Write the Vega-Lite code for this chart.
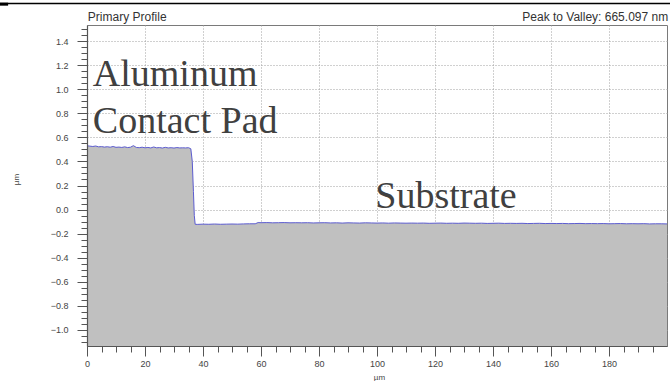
{
  "$schema": "https://vega.github.io/schema/vega-lite/v6.json",
  "width": 580,
  "height": 321,
  "autosize": "none",
  "padding": {"left": 87, "top": 25, "right": 3, "bottom": 35},
  "background": "white",
  "config": {
    "view": {"stroke": "#7a7a7a", "strokeWidth": 1},
    "font": "Liberation Sans"
  },
  "datasets": {
    "profile": [
      {"x": 0, "z": 0.530}, {"x": 1, "z": 0.527}, {"x": 2, "z": 0.524}, {"x": 3, "z": 0.528},
      {"x": 4, "z": 0.521}, {"x": 5, "z": 0.523}, {"x": 6, "z": 0.519}, {"x": 7, "z": 0.522},
      {"x": 8, "z": 0.518}, {"x": 9, "z": 0.524}, {"x": 10, "z": 0.517}, {"x": 11, "z": 0.519},
      {"x": 12, "z": 0.516}, {"x": 13, "z": 0.521}, {"x": 14, "z": 0.515}, {"x": 15, "z": 0.518},
      {"x": 16, "z": 0.531}, {"x": 17, "z": 0.516}, {"x": 18, "z": 0.514}, {"x": 19, "z": 0.518},
      {"x": 20, "z": 0.513}, {"x": 21, "z": 0.516}, {"x": 22, "z": 0.512}, {"x": 23, "z": 0.520},
      {"x": 24, "z": 0.513}, {"x": 25, "z": 0.515}, {"x": 26, "z": 0.511}, {"x": 27, "z": 0.517},
      {"x": 28, "z": 0.512}, {"x": 29, "z": 0.514}, {"x": 30, "z": 0.511}, {"x": 31, "z": 0.515},
      {"x": 32, "z": 0.512}, {"x": 33, "z": 0.513}, {"x": 34, "z": 0.512}, {"x": 35, "z": 0.514},
      {"x": 35.8, "z": 0.505}, {"x": 36.3, "z": 0.40}, {"x": 36.7, "z": 0.15}, {"x": 37.0, "z": -0.05},
      {"x": 37.3, "z": -0.122}, {"x": 38, "z": -0.123}, {"x": 40, "z": -0.121}, {"x": 42, "z": -0.122},
      {"x": 44, "z": -0.120}, {"x": 46, "z": -0.122}, {"x": 48, "z": -0.121}, {"x": 50, "z": -0.120},
      {"x": 52, "z": -0.121}, {"x": 54, "z": -0.119}, {"x": 56, "z": -0.118}, {"x": 58, "z": -0.118},
      {"x": 59, "z": -0.108}, {"x": 60, "z": -0.109}, {"x": 62, "z": -0.108}, {"x": 64, "z": -0.110},
      {"x": 66, "z": -0.109}, {"x": 68, "z": -0.108}, {"x": 70, "z": -0.110}, {"x": 72, "z": -0.109},
      {"x": 74, "z": -0.110}, {"x": 76, "z": -0.109}, {"x": 78, "z": -0.111}, {"x": 80, "z": -0.110},
      {"x": 82, "z": -0.109}, {"x": 84, "z": -0.111}, {"x": 86, "z": -0.110}, {"x": 88, "z": -0.112},
      {"x": 90, "z": -0.110}, {"x": 92, "z": -0.111}, {"x": 94, "z": -0.112}, {"x": 96, "z": -0.110},
      {"x": 98, "z": -0.111}, {"x": 100, "z": -0.112}, {"x": 102, "z": -0.111}, {"x": 104, "z": -0.113},
      {"x": 106, "z": -0.111}, {"x": 108, "z": -0.112}, {"x": 110, "z": -0.113}, {"x": 112, "z": -0.112},
      {"x": 114, "z": -0.113}, {"x": 116, "z": -0.112}, {"x": 118, "z": -0.114}, {"x": 120, "z": -0.113},
      {"x": 122, "z": -0.112}, {"x": 124, "z": -0.114}, {"x": 126, "z": -0.113}, {"x": 128, "z": -0.114},
      {"x": 130, "z": -0.112}, {"x": 132, "z": -0.113}, {"x": 134, "z": -0.114}, {"x": 136, "z": -0.113},
      {"x": 138, "z": -0.115}, {"x": 140, "z": -0.114}, {"x": 142, "z": -0.113}, {"x": 144, "z": -0.115},
      {"x": 146, "z": -0.114}, {"x": 148, "z": -0.115}, {"x": 150, "z": -0.114}, {"x": 152, "z": -0.116},
      {"x": 154, "z": -0.115}, {"x": 156, "z": -0.114}, {"x": 158, "z": -0.116}, {"x": 160, "z": -0.115},
      {"x": 162, "z": -0.116}, {"x": 164, "z": -0.115}, {"x": 166, "z": -0.117}, {"x": 168, "z": -0.116},
      {"x": 170, "z": -0.115}, {"x": 172, "z": -0.117}, {"x": 174, "z": -0.116}, {"x": 176, "z": -0.117},
      {"x": 178, "z": -0.116}, {"x": 180, "z": -0.118}, {"x": 182, "z": -0.117}, {"x": 184, "z": -0.116},
      {"x": 186, "z": -0.118}, {"x": 188, "z": -0.117}, {"x": 190, "z": -0.118}, {"x": 192, "z": -0.117},
      {"x": 194, "z": -0.119}, {"x": 196, "z": -0.118}, {"x": 198, "z": -0.118}, {"x": 200, "z": -0.119}
    ],
    "labels": [
      {"x": 2, "z": 1.027, "label": "Aluminum"},
      {"x": 2, "z": 0.636, "label": "Contact Pad"},
      {"x": 99.4, "z": 0.013, "label": "Substrate"}
    ],
    "one": [{}]
  },
  "layer": [
    {
      "data": {"name": "profile"},
      "mark": {"type": "area", "color": "#c0c0c0", "opacity": 1, "fillOpacity": 1, "line": {"color": "#5c5cd0", "strokeWidth": 1}},
      "encoding": {
        "x": {
          "field": "x", "type": "quantitative",
          "scale": {"domain": [0, 200], "nice": false, "zero": false},
          "axis": {
            "orient": "bottom", "values": [0, 20, 40, 60, 80, 100, 120, 140, 160, 180],
            "grid": true, "gridColor": "#a0a0a0", "gridDash": [1, 2], "gridWidth": 1,
            "domain": false, "tickSize": 10, "tickColor": "#555", "tickWidth": 1,
            "labelFontSize": 9, "labelColor": "#444", "labelPadding": 3, "labelFlush": false,
            "title": "µm", "titleFontSize": 8, "titleFontWeight": "normal", "titleColor": "#444",
            "titleX": 292, "titleY": 27, "titleBaseline": "top", "zindex": 0
          }
        },
        "y": {
          "field": "z", "type": "quantitative",
          "scale": {"domain": [-1.133, 1.533], "nice": false, "zero": false},
          "axis": {
            "orient": "left", "values": [-1.0, -0.8, -0.6, -0.4, -0.2, 0, 0.2, 0.4, 0.6, 0.8, 1.0, 1.2, 1.4],
            "format": ".1f",
            "grid": true, "gridColor": "#a0a0a0", "gridDash": [1, 2], "gridWidth": 1,
            "domain": false, "tickSize": 10, "tickColor": "#555", "tickWidth": 1,
            "labelFontSize": 9, "labelColor": "#444", "labelPadding": 9, "labelFlush": false,
            "title": "µm", "titleFontSize": 8, "titleFontWeight": "normal", "titleColor": "#444",
            "titleAngle": 270, "titleX": -71, "titleY": 154, "titleBaseline": "middle", "titleAlign": "center", "zindex": 0
          }
        },
        "y2": {"datum": -1.133}
      }
    },
    {
      "data": {"name": "profile"},
      "mark": {"type": "point", "opacity": 0},
      "encoding": {
        "x": {
          "field": "x", "type": "quantitative",
          "axis": {
            "orient": "bottom",
            "values": [5, 10, 15, 25, 30, 35, 45, 50, 55, 65, 70, 75, 85, 90, 95, 105, 110, 115, 125, 130, 135, 145, 150, 155, 165, 170, 175, 185, 190, 195],
            "grid": false, "labels": false, "title": null,
            "domain": true, "domainColor": "#555", "domainWidth": 1.2,
            "tickSize": 6, "tickColor": "#555", "tickWidth": 1, "zindex": 1
          }
        },
        "y": {
          "field": "z", "type": "quantitative",
          "axis": {
            "orient": "left",
            "values": [-1.1, -1.05, -0.95, -0.9, -0.85, -0.75, -0.7, -0.65, -0.55, -0.5, -0.45, -0.35, -0.3, -0.25, -0.15, -0.1, -0.05, 0.05, 0.1, 0.15, 0.25, 0.3, 0.35, 0.45, 0.5, 0.55, 0.65, 0.7, 0.75, 0.85, 0.9, 0.95, 1.05, 1.1, 1.15, 1.25, 1.3, 1.35, 1.45, 1.5],
            "grid": false, "labels": false, "title": null,
            "domain": true, "domainColor": "#555", "domainWidth": 1.2,
            "tickSize": 6, "tickColor": "#555", "tickWidth": 1, "zindex": 1
          }
        }
      }
    },
    {
      "data": {"name": "labels"},
      "mark": {"type": "text", "font": "Liberation Serif", "fontSize": 38, "color": "#404040", "align": "left", "baseline": "alphabetic"},
      "encoding": {
        "x": {"field": "x", "type": "quantitative", "axis": null},
        "y": {"field": "z", "type": "quantitative", "axis": null},
        "text": {"field": "label"}
      }
    },
    {
      "data": {"name": "one"},
      "mark": {"type": "text", "fontSize": 12, "color": "#333", "align": "left", "baseline": "alphabetic", "clip": false},
      "encoding": {
        "x": {"datum": 0.3, "axis": null},
        "y": {"datum": 1.566, "axis": null},
        "text": {"value": "Primary Profile"}
      }
    },
    {
      "data": {"name": "one"},
      "mark": {"type": "text", "fontSize": 12, "color": "#333", "align": "right", "baseline": "alphabetic", "clip": false},
      "encoding": {
        "x": {"datum": 200.4, "axis": null},
        "y": {"datum": 1.566, "axis": null},
        "text": {"value": "Peak to Valley: 665.097 nm"}
      }
    },
    {
      "data": {"name": "one"},
      "mark": {"type": "rule", "color": "#000", "strokeWidth": 1.5, "clip": false},
      "encoding": {
        "x": {"datum": -30, "axis": null},
        "x2": {"datum": 201.1},
        "y": {"datum": 1.712, "axis": null}
      }
    },
    {
      "data": {"name": "one"},
      "mark": {"type": "rule", "color": "#000", "strokeWidth": 3, "clip": false},
      "encoding": {
        "x": {"datum": -30, "axis": null},
        "x2": {"datum": -27.2},
        "y": {"datum": 1.706, "axis": null}
      }
    }
  ],
  "resolve": {"axis": {"x": "independent", "y": "independent"}}
}
